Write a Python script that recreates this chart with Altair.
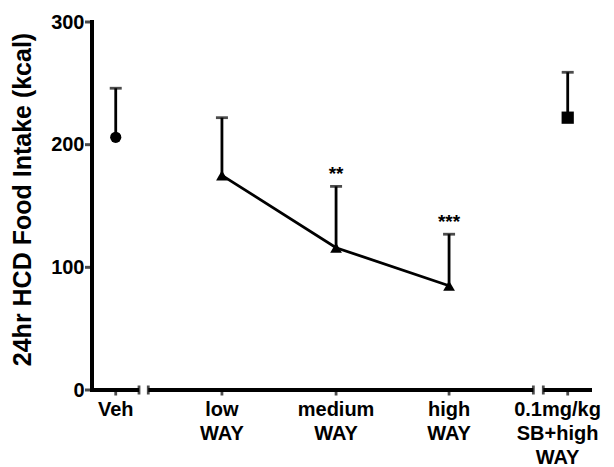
import altair as alt
import pandas as pd

# Group labels, mean intake (kcal) and SEM
groups = ["Veh", "low\nWAY", "medium\nWAY", "high\nWAY", "0.1mg/kg\nSB+high\nWAY"]
means = [206, 175, 116, 85, 222]
sems = [40, 47, 50, 42, 37]
markers = ["circle", "triangle-up", "triangle-up", "triangle-up", "square"]
stars = ["", "", "**", "***", ""]
dose_series = [False, True, True, True, False]
y_ticks = [0, 100, 200, 300]

# Horizontal layout of the broken category axis (in category units)
x_pos = [0.0, 0.94, 1.95, 2.95, 4.0]
label_pos = [0.0, 0.94, 1.95, 2.95, 3.91]
x_min, x_max = -0.21, 4.215
seg_start = [x_min, 0.288, 3.784]
seg_end = [0.206, 3.696, x_max]
break_caps = [0.206, 0.288, 3.696, 3.784]

FONT = "Liberation Sans"
LW = 2.8
AXIS_W = 4
TITLE = "24hr HCD Food Intake (kcal)"

df = pd.DataFrame({
    "group": groups,
    "pos": x_pos,
    "label_pos": label_pos,
    "mean": means,
    "top": [m + s for m, s in zip(means, sems)],
    "marker": markers,
    "stars": stars,
    "series": dose_series,
})
segs = pd.DataFrame({"x0": seg_start, "x1": seg_end})
caps = pd.DataFrame({"x": break_caps})
yt = pd.DataFrame({"v": y_ticks})

xs = alt.Scale(domain=[x_min, x_max], nice=False, zero=False)
ys = alt.Scale(domain=[0, 300], nice=False)

# Labels and title come from the axis; its line and ticks are drawn as marks below
Y_axis = alt.Axis(
    values=y_ticks, title=TITLE, grid=False, domain=False, ticks=False,
    labelFont=FONT, labelFontSize=20, labelFontWeight="bold", labelColor="black",
    labelPadding=8,
    titleFont=FONT, titleFontSize=25, titleFontWeight="bold", titleColor="black",
    titleAngle=270, titleAlign="center", titleBaseline="alphabetic",
    titleX=-62, titleY=177,
)


def yq(field):
    return alt.Y(field, scale=ys, axis=Y_axis, title=TITLE)


def y0(v=0):
    return alt.YDatum(v, scale=ys, axis=Y_axis, title=TITLE)


X = alt.X("pos:Q", scale=xs, axis=None)
base = alt.Chart(df)

err = base.mark_rule(color="black", strokeWidth=LW).encode(
    x=X, y=yq("mean:Q"), y2="top:Q"
)
err_cap = base.mark_tick(color="black", orient="horizontal", size=12, thickness=LW).encode(
    x=X, y=yq("top:Q")
)
line = base.transform_filter("datum.series").mark_line(color="black", strokeWidth=LW).encode(
    x=X, y=yq("mean:Q"), order="pos:Q"
)
points = base.mark_point(filled=True, opacity=1, color="black").encode(
    x=X,
    y=yq("mean:Q"),
    shape=alt.Shape("marker:N", scale=alt.Scale(domain=["circle", "triangle-up", "square"],
                                                range=["circle", "triangle-up", "square"]), legend=None),
    size=alt.Size("marker:N", scale=alt.Scale(domain=["circle", "triangle-up", "square"],
                                              range=[125, 150, 150]), legend=None),
)
sig = base.mark_text(font=FONT, fontSize=19, fontWeight="bold", color="black",
                     baseline="alphabetic", dy=-6).encode(
    x=X, y=yq("top:Q"), text="stars:N"
)
labels = base.mark_text(font=FONT, fontSize=20, fontWeight="bold", color="black",
                        baseline="top", align="center", lineBreak="\n", lineHeight=24, dy=10).encode(
    x=alt.X("label_pos:Q", scale=xs, axis=None), y=y0(), text="group:N"
)

# Vertical axis line and its ticks
y_line = alt.Chart(yt).transform_aggregate(lo="min(v)", hi="max(v)").mark_rule(
    color="black", strokeWidth=AXIS_W, strokeCap="square"
).encode(
    x=alt.XDatum(x_min, scale=xs, axis=None), y=yq("lo:Q"), y2="hi:Q"
)
y_tick_marks = alt.Chart(yt).mark_tick(color="black", orient="horizontal", size=7,
                                       thickness=3, xOffset=-3.5).encode(
    x=alt.XDatum(x_min, scale=xs, axis=None), y=yq("v:Q")
)

# Broken horizontal axis: segments, break caps and category ticks
axis_segs = alt.Chart(segs).mark_rule(color="black", strokeWidth=AXIS_W).encode(
    x=alt.X("x0:Q", scale=xs, axis=None), x2="x1:Q", y=y0()
)
axis_caps = alt.Chart(caps).mark_tick(color="black", orient="vertical", size=9, thickness=LW).encode(
    x=alt.X("x:Q", scale=xs, axis=None), y=y0()
)
cat_ticks = base.mark_tick(color="black", orient="vertical", size=6, thickness=LW, yOffset=2.5).encode(
    x=X, y=y0()
)

chart = alt.layer(
    err, err_cap, line, points, sig, labels, y_line, y_tick_marks,
    axis_segs, axis_caps, cat_ticks
).properties(
    width=500, height=368,
    autosize=alt.AutoSizeParams(type="none"),
    padding={"left": 92, "top": 22, "right": 22, "bottom": 77},
    background="white",
).configure_view(stroke=None)

chart.save("out.html", embed_options={"renderer": "svg", "actions": False})
